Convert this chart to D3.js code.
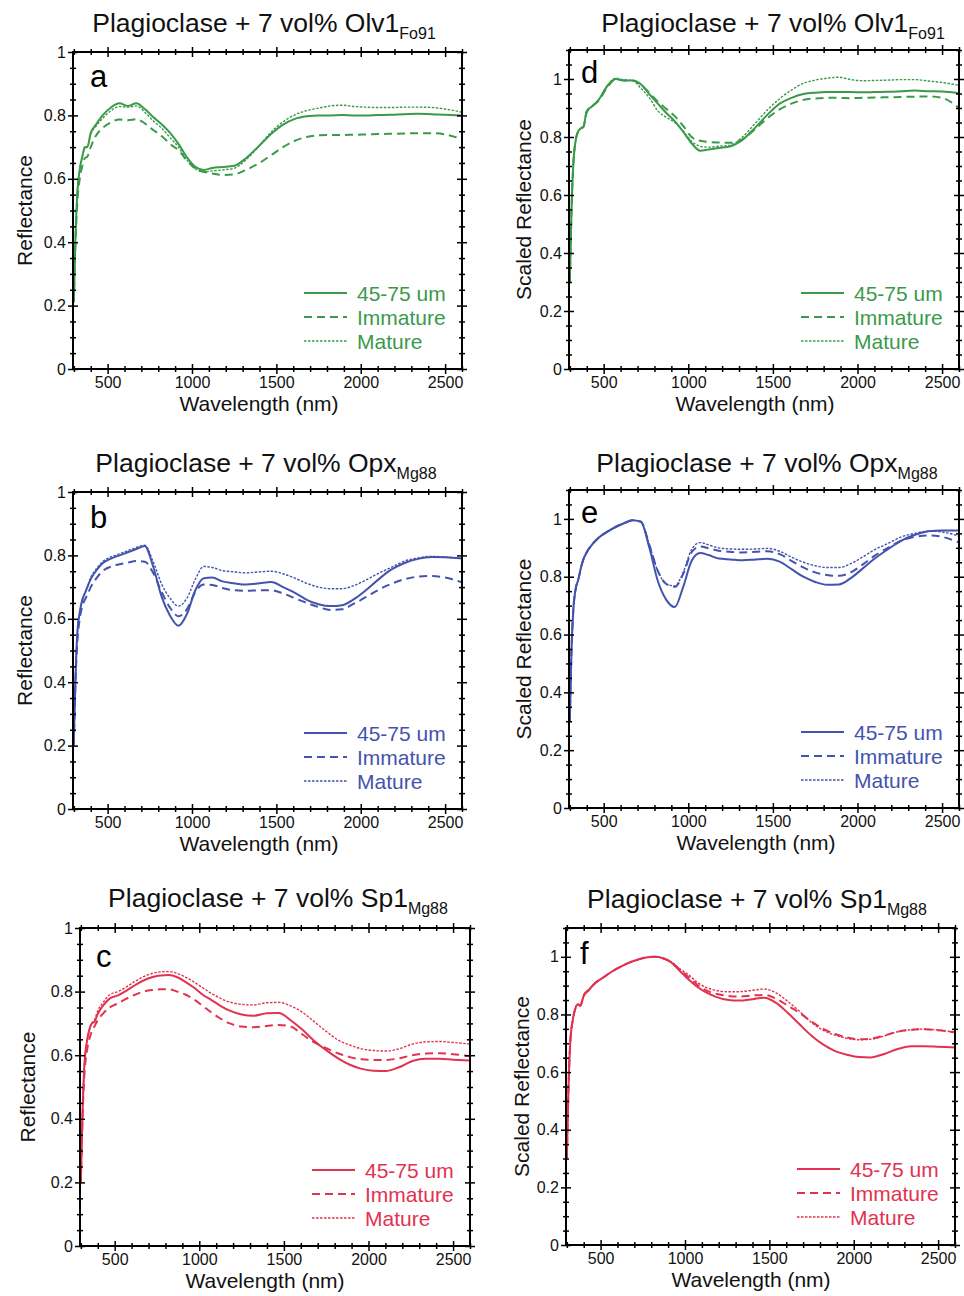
<!DOCTYPE html>
<html>
<head>
<meta charset="utf-8">
<script src="https://cdn.jsdelivr.net/npm/d3@7"></script>
<style>
  body { margin: 0; background: #fff; }
  svg text { font-family: "Liberation Sans", Arial, Helvetica, sans-serif; }
</style>
</head>
<body>
<svg id="fig" width="964" height="1296"></svg>
<script>
// Wavelength grid (nm) shared by every spectrum
const wavelengths = [300,310,320,335,350,365,380,400,430,470,520,570,620,670,720,770,820,870,920,970,1020,1070,1120,1180,1250,1320,1400,1470,1540,1610,1680,1750,1820,1890,1960,2030,2100,2180,2260,2340,2420,2500,2600];

// Plagioclase + 7 vol% Olv1 (Fo91) — absolute reflectance
const olvFine = [0.22,0.42,0.55,0.63,0.67,0.70,0.70,0.745,0.77,0.80, 0.825,0.838,0.83,0.838,0.82,0.795,0.772,0.745,0.71,0.668, 0.638,0.628,0.634,0.637,0.641,0.665,0.705,0.742,0.771,0.789, 0.797,0.80,0.80,0.801,0.80,0.80,0.801,0.802,0.804,0.805, 0.804,0.802,0.80];
const olvImm  = [0.21,0.40,0.52,0.60,0.64,0.665,0.67,0.70,0.735,0.76, 0.778,0.787,0.785,0.788,0.775,0.754,0.735,0.71,0.69,0.658, 0.632,0.622,0.617,0.612,0.614,0.628,0.65,0.675,0.70,0.72, 0.732,0.737,0.738,0.738,0.739,0.74,0.741,0.742,0.743,0.744, 0.744,0.74,0.725];
const olvMat  = [0.22,0.42,0.55,0.63,0.67,0.695,0.70,0.74,0.765,0.79, 0.815,0.828,0.826,0.83,0.81,0.783,0.76,0.73,0.70,0.66, 0.632,0.622,0.625,0.628,0.633,0.66,0.705,0.748,0.78,0.802, 0.815,0.823,0.83,0.832,0.828,0.826,0.825,0.825,0.826,0.826, 0.825,0.82,0.81];

// Plagioclase + 7 vol% Olv1 (Fo91) — scaled to the visible maximum
const olvFineScaled = [0.30,0.55,0.70,0.79,0.82,0.83,0.835,0.89,0.905,0.928, 0.975,1.0,0.995,0.995,0.982,0.948,0.915,0.883,0.855,0.818, 0.778,0.753,0.757,0.762,0.768,0.79,0.835,0.878,0.915,0.935, 0.948,0.953,0.955,0.955,0.955,0.954,0.955,0.956,0.958,0.96, 0.958,0.957,0.952];
const olvImmScaled  = [0.30,0.55,0.70,0.79,0.82,0.83,0.835,0.885,0.905,0.925, 0.97,0.998,0.995,0.995,0.98,0.952,0.922,0.897,0.872,0.838, 0.80,0.787,0.783,0.781,0.78,0.792,0.83,0.866,0.895,0.915, 0.928,0.933,0.935,0.935,0.934,0.935,0.936,0.937,0.938,0.939, 0.94,0.935,0.90];
const olvMatScaled  = [0.30,0.55,0.70,0.79,0.82,0.83,0.835,0.89,0.905,0.928, 0.975,1.003,0.997,0.995,0.968,0.935,0.89,0.868,0.85,0.82, 0.785,0.768,0.765,0.768,0.772,0.80,0.85,0.895,0.932,0.962, 0.985,0.996,1.003,1.006,0.998,0.994,0.995,0.996,0.998,0.998, 0.993,0.988,0.978];

// Plagioclase + 7 vol% Opx (Mg88) — absolute reflectance
const opxFine = [0.22,0.42,0.55,0.62,0.66,0.68,0.70,0.725,0.75,0.775, 0.79,0.80,0.81,0.82,0.83,0.765,0.67,0.61,0.578,0.615, 0.69,0.728,0.73,0.718,0.712,0.708,0.712,0.716,0.70,0.682, 0.66,0.646,0.64,0.643,0.662,0.69,0.722,0.755,0.776,0.789, 0.795,0.794,0.79];
const opxImm  = [0.20,0.40,0.52,0.60,0.64,0.66,0.675,0.70,0.725,0.75, 0.765,0.772,0.777,0.782,0.78,0.745,0.685,0.635,0.608,0.63, 0.685,0.708,0.707,0.697,0.69,0.688,0.69,0.69,0.68,0.665, 0.65,0.637,0.628,0.63,0.648,0.668,0.69,0.71,0.725,0.733, 0.735,0.73,0.715];
const opxMat  = [0.22,0.42,0.55,0.62,0.66,0.68,0.70,0.73,0.755,0.78, 0.795,0.805,0.815,0.825,0.832,0.78,0.71,0.665,0.64,0.665, 0.725,0.765,0.762,0.752,0.748,0.745,0.748,0.75,0.742,0.728, 0.712,0.70,0.695,0.695,0.705,0.722,0.742,0.762,0.782,0.792, 0.797,0.795,0.79];

// Plagioclase + 7 vol% Opx (Mg88) — scaled
const opxFineScaled = [0.30,0.55,0.68,0.76,0.79,0.83,0.86,0.885,0.91,0.935, 0.955,0.972,0.985,0.995,0.99,0.90,0.785,0.72,0.695,0.765, 0.855,0.882,0.875,0.863,0.86,0.857,0.86,0.862,0.852,0.826, 0.80,0.782,0.772,0.773,0.795,0.828,0.862,0.895,0.925,0.945, 0.957,0.96,0.96];
const opxImmScaled  = [0.30,0.55,0.68,0.76,0.79,0.83,0.86,0.885,0.91,0.935, 0.955,0.972,0.985,0.995,0.99,0.91,0.82,0.775,0.765,0.81, 0.885,0.905,0.898,0.89,0.886,0.884,0.886,0.888,0.878,0.855, 0.832,0.815,0.806,0.803,0.815,0.842,0.872,0.90,0.925,0.938, 0.943,0.938,0.918];
const opxMatScaled  = [0.30,0.55,0.68,0.76,0.79,0.83,0.86,0.885,0.91,0.935, 0.955,0.972,0.985,0.995,0.99,0.91,0.82,0.775,0.768,0.815, 0.895,0.918,0.91,0.90,0.896,0.895,0.896,0.898,0.888,0.868, 0.85,0.838,0.832,0.832,0.845,0.868,0.893,0.915,0.938,0.95, 0.958,0.955,0.94];

// Plagioclase + 7 vol% Sp1 (Mg88) — absolute reflectance
const spFine = [0.20,0.42,0.56,0.64,0.68,0.70,0.705,0.73,0.755,0.778, 0.788,0.803,0.82,0.835,0.845,0.851,0.852,0.845,0.83,0.812, 0.79,0.774,0.757,0.74,0.728,0.724,0.732,0.733,0.71,0.68, 0.645,0.616,0.59,0.57,0.557,0.551,0.55,0.562,0.582,0.589, 0.589,0.586,0.583];
const spImm  = [0.20,0.40,0.53,0.61,0.65,0.675,0.69,0.71,0.73,0.75, 0.763,0.778,0.79,0.80,0.805,0.807,0.807,0.80,0.79,0.775, 0.755,0.735,0.717,0.70,0.69,0.688,0.692,0.695,0.69,0.665, 0.64,0.622,0.606,0.594,0.587,0.585,0.585,0.59,0.60,0.605, 0.606,0.603,0.597];
const spMat  = [0.20,0.42,0.56,0.64,0.68,0.70,0.71,0.74,0.765,0.79, 0.80,0.815,0.832,0.847,0.857,0.862,0.863,0.857,0.845,0.83, 0.812,0.795,0.78,0.767,0.76,0.758,0.765,0.766,0.755,0.735, 0.705,0.675,0.648,0.632,0.62,0.615,0.613,0.62,0.635,0.642, 0.643,0.64,0.635];

// Plagioclase + 7 vol% Sp1 (Mg88) — scaled
const spFineScaled = [0.30,0.55,0.70,0.78,0.82,0.835,0.83,0.865,0.885,0.91, 0.93,0.95,0.966,0.98,0.99,0.998,1.0,0.995,0.98,0.951, 0.922,0.897,0.878,0.862,0.851,0.848,0.853,0.858,0.84,0.805, 0.765,0.726,0.695,0.673,0.66,0.652,0.651,0.663,0.68,0.69, 0.69,0.688,0.685];
const spImmScaled  = [0.30,0.55,0.70,0.78,0.82,0.835,0.83,0.865,0.885,0.91, 0.93,0.95,0.966,0.98,0.99,0.998,1.0,0.995,0.98,0.955, 0.93,0.905,0.885,0.872,0.865,0.862,0.866,0.868,0.855,0.83, 0.805,0.775,0.75,0.732,0.72,0.714,0.716,0.727,0.74,0.747, 0.749,0.745,0.738];
const spMatScaled  = [0.30,0.55,0.70,0.78,0.82,0.835,0.83,0.865,0.885,0.91, 0.93,0.95,0.966,0.98,0.99,0.998,1.0,0.995,0.982,0.958, 0.938,0.913,0.895,0.884,0.879,0.879,0.884,0.888,0.875,0.845, 0.81,0.772,0.745,0.728,0.717,0.712,0.714,0.725,0.74,0.747, 0.749,0.746,0.738];

// Legend entries and axis ticks
const seriesNames = ["45-75 um", "Immature", "Mature"];
const xMajorTicks = [500, 1000, 1500, 2000, 2500];
const xMinorTicks = [300,400,600,700,800,900,1100,1200,1300,1400,1600,1700,1800,1900,2100,2200,2300,2400,2600];
const yMajorTicks = [0, 0.2, 0.4, 0.6, 0.8, 1];

// ---- drawing ----
const GREEN = "#3a9a4a", BLUE = "#4453ad", RED = "#e2324f";
const lineStyles = [
  { dash: null, width: 2 },
  { dash: "8,5", width: 2 },
  { dash: "2.5,1.5", width: 1.4 }
];

const panels = [
  { letter: "a", title: "Plagioclase + 7 vol% Olv1", sub: "Fo91", yLabel: "Reflectance", yMax: 1, color: GREEN,
    series: [olvFine, olvImm, olvMat], box: { l: 73, r: 462, t: 52, b: 369 },
    titleX: 264, titleY: 32, letterX: 90, letterY: 87, yLabelX: 24, xLabelX: 259 },
  { letter: "b", title: "Plagioclase + 7 vol% Opx", sub: "Mg88", yLabel: "Reflectance", yMax: 1, color: BLUE,
    series: [opxFine, opxImm, opxMat], box: { l: 73, r: 462, t: 492, b: 809 },
    titleX: 266, titleY: 472, letterX: 90, letterY: 528, yLabelX: 24, xLabelX: 259 },
  { letter: "c", title: "Plagioclase + 7 vol% Sp1", sub: "Mg88", yLabel: "Reflectance", yMax: 1, color: RED,
    series: [spFine, spImm, spMat], box: { l: 80, r: 470, t: 928, b: 1246 },
    titleX: 278, titleY: 907, letterX: 96, letterY: 967, yLabelX: 27, xLabelX: 265 },
  { letter: "d", title: "Plagioclase + 7 vol% Olv1", sub: "Fo91", yLabel: "Scaled Reflectance", yMax: 1.1, color: GREEN,
    series: [olvFineScaled, olvImmScaled, olvMatScaled], box: { l: 569, r: 959, t: 50, b: 369 },
    titleX: 773, titleY: 32, letterX: 581, letterY: 83, yLabelX: 523, xLabelX: 755 },
  { letter: "e", title: "Plagioclase + 7 vol% Opx", sub: "Mg88", yLabel: "Scaled Reflectance", yMax: 1.1, color: BLUE,
    series: [opxFineScaled, opxImmScaled, opxMatScaled], box: { l: 569, r: 959, t: 490, b: 808 },
    titleX: 767, titleY: 472, letterX: 581, letterY: 523, yLabelX: 523, xLabelX: 756 },
  { letter: "f", title: "Plagioclase + 7 vol% Sp1", sub: "Mg88", yLabel: "Scaled Reflectance", yMax: 1.1, color: RED,
    series: [spFineScaled, spImmScaled, spMatScaled], box: { l: 566, r: 955, t: 928, b: 1245 },
    titleX: 757, titleY: 908, letterX: 580, letterY: 964, yLabelX: 521, xLabelX: 751 }
];

const svg = d3.select("#fig");
svg.append("rect").attr("width", 964).attr("height", 1296).attr("fill", "#fff");

const yTickFormat = d3.format("~g");

panels.forEach(p => {
  const { l, r, t, b } = p.box;
  const x = d3.scaleLinear().domain([295, 2600]).range([l, r]);
  const y = d3.scaleLinear().domain([0, p.yMax]).range([b, t]);
  const yMinorTicks = d3.range(0, p.yMax + 1e-6, 0.05)
    .map(v => +v.toFixed(2))
    .filter(v => !yMajorTicks.some(m => Math.abs(m - v) < 1e-6));

  const g = svg.append("g").attr("class", "panel-" + p.letter);

  // clip spectra to the frame
  const clipId = "clip-" + p.letter;
  g.append("clipPath").attr("id", clipId)
    .append("rect").attr("x", l).attr("y", t).attr("width", r - l).attr("height", b - t);

  const line = d3.line()
    .x((d, i) => x(wavelengths[i]))
    .y(d => y(d))
    .curve(d3.curveMonotoneX);

  const plot = g.append("g").attr("clip-path", `url(#${clipId})`);
  p.series.forEach((vals, si) => {
    plot.append("path")
      .datum(vals)
      .attr("d", line)
      .attr("fill", "none")
      .attr("stroke", p.color)
      .attr("stroke-width", lineStyles[si].width)
      .attr("stroke-dasharray", lineStyles[si].dash)
      .attr("stroke-linejoin", "round");
  });

  // axes: ticks straddle the frame on all four sides
  function styleAxis(sel, attr, inner, withText) {
    sel.select(".domain").remove();
    sel.selectAll(".tick line").attr(attr, inner).attr("stroke", "#000").attr("stroke-width", 1.5);
    if (!withText) sel.selectAll(".tick text").remove();
    sel.attr("font-family", null).attr("font-size", null);
  }

  // bottom
  const bot = g.append("g").attr("transform", `translate(0,${b})`)
    .call(d3.axisBottom(x).tickValues(xMajorTicks).tickSize(5).tickFormat(d3.format("d")));
  styleAxis(bot, "y1", -5, true);
  bot.selectAll(".tick text").attr("y", 8).attr("font-size", 16).attr("fill", "#111");
  const botMinor = g.append("g").attr("transform", `translate(0,${b})`)
    .call(d3.axisBottom(x).tickValues(xMinorTicks).tickSize(3).tickFormat(""));
  styleAxis(botMinor, "y1", -3, false);

  // top
  const top = g.append("g").attr("transform", `translate(0,${t})`)
    .call(d3.axisTop(x).tickValues(xMajorTicks).tickSize(5).tickFormat(""));
  styleAxis(top, "y1", 5, false);
  const topMinor = g.append("g").attr("transform", `translate(0,${t})`)
    .call(d3.axisTop(x).tickValues(xMinorTicks).tickSize(3).tickFormat(""));
  styleAxis(topMinor, "y1", 3, false);

  // left
  const left = g.append("g").attr("transform", `translate(${l},0)`)
    .call(d3.axisLeft(y).tickValues(yMajorTicks).tickSize(5).tickFormat(yTickFormat));
  styleAxis(left, "x1", 5, true);
  left.selectAll(".tick text").attr("x", -7).attr("font-size", 16).attr("fill", "#111");
  const leftMinor = g.append("g").attr("transform", `translate(${l},0)`)
    .call(d3.axisLeft(y).tickValues(yMinorTicks).tickSize(3).tickFormat(""));
  styleAxis(leftMinor, "x1", 3, false);

  // right
  const right = g.append("g").attr("transform", `translate(${r},0)`)
    .call(d3.axisRight(y).tickValues(yMajorTicks).tickSize(5).tickFormat(""));
  styleAxis(right, "x1", -5, false);
  const rightMinor = g.append("g").attr("transform", `translate(${r},0)`)
    .call(d3.axisRight(y).tickValues(yMinorTicks).tickSize(3).tickFormat(""));
  styleAxis(rightMinor, "x1", -3, false);

  // frame
  g.append("rect")
    .attr("x", l).attr("y", t).attr("width", r - l).attr("height", b - t)
    .attr("fill", "none").attr("stroke", "#000").attr("stroke-width", 2);

  // panel letter
  g.append("text")
    .attr("x", p.letterX).attr("y", p.letterY)
    .attr("font-size", 31).attr("fill", "#000")
    .text(p.letter);

  // title with subscript
  const title = g.append("text")
    .attr("x", p.titleX).attr("y", p.titleY)
    .attr("text-anchor", "middle").attr("fill", "#111");
  title.append("tspan").attr("font-size", 26.5).text(p.title);
  title.append("tspan").attr("font-size", 16).attr("dy", 7).text(p.sub);

  // axis titles
  g.append("text")
    .attr("x", p.xLabelX).attr("y", b + 42)
    .attr("text-anchor", "middle").attr("font-size", 21).attr("fill", "#111")
    .text("Wavelength (nm)");
  g.append("text")
    .attr("transform", `translate(${p.yLabelX},${(t + b) / 2}) rotate(-90)`)
    .attr("text-anchor", "middle").attr("dominant-baseline", "central")
    .attr("font-size", 21).attr("fill", "#111")
    .text(p.yLabel);

  // legend
  const leg = g.append("g");
  seriesNames.forEach((name, si) => {
    const cy = b - 76 + 24 * si;
    leg.append("line")
      .attr("x1", r - 158).attr("x2", r - 115)
      .attr("y1", cy).attr("y2", cy)
      .attr("stroke", p.color)
      .attr("stroke-width", lineStyles[si].width)
      .attr("stroke-dasharray", lineStyles[si].dash);
    leg.append("text")
      .attr("x", r - 105).attr("y", cy + 8)
      .attr("font-size", 21).attr("fill", p.color)
      .text(name);
  });
});
</script>
</body>
</html>
